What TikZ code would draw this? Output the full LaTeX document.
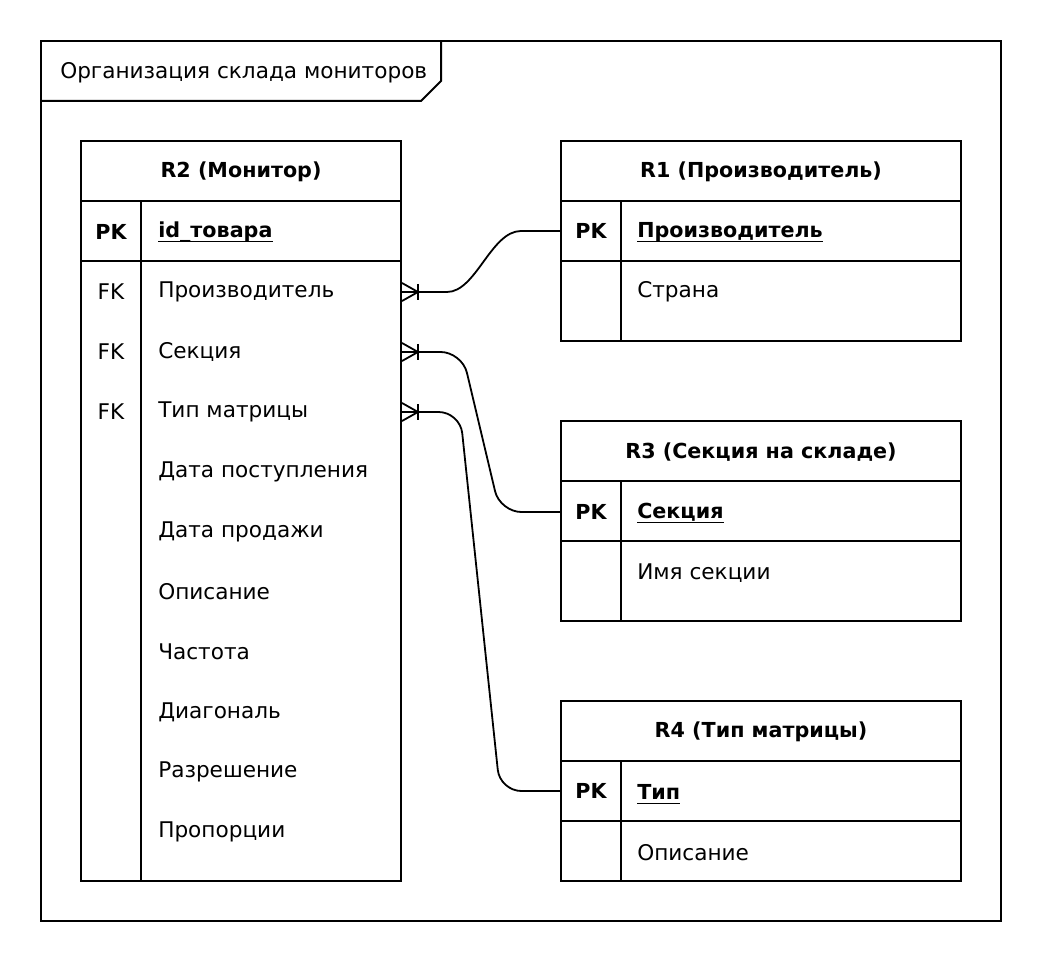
\documentclass[tikz,border=0pt]{standalone}
\usepackage{fontspec}
\setmainfont{DejaVu Sans}
\tikzset{
  frame/.style={line width=1.5pt, line join=miter},
  grid/.style={line width=1.5pt},
  conn/.style={line width=1.35pt},
  ulin/.style={line width=0.9pt},
  txt/.style={font=\fontsize{16.2}{19}\selectfont, inner sep=0pt, anchor=west},
  key/.style={font=\fontsize{16.2}{19}\selectfont, inner sep=0pt},
  bkey/.style={font=\fontsize{15.5}{19}\selectfont\bfseries, inner sep=0pt},
  btxt/.style={font=\fontsize{15.5}{19}\selectfont\bfseries, inner sep=0pt, anchor=west},
  head/.style={font=\fontsize{15.5}{19}\selectfont\bfseries, inner sep=0pt},
  tbl/.style={draw, line width=1.5pt, inner sep=0pt}
}
\newcommand{\crowfoot}[1]{%
  \begin{scope}[shift={(#1)}]
    \draw[conn] (0,-9) -- (16,0) -- (0,9);
    \draw[conn] (16,-8) -- (16,8);
  \end{scope}}
\newcommand{\ulnode}[1]{%
  \draw[ulin] ([yshift=-3pt]#1.base west) -- ([yshift=-3pt]#1.base east);}
\begin{document}
\begin{tikzpicture}[x=0.75pt,y=-0.75pt]
\useasboundingbox (0,0) rectangle (1042,962);
% outer frame
\draw[frame] (41,41) rectangle (1001,921);
\draw[frame] (41,101) -- (421,101) -- (441,81) -- (441,41);
\node[txt] (title) at (60,73) {Организация склада мониторов};

% ---------- R2 ----------
\node[tbl, minimum width=240pt, minimum height=555pt] (r2) at (241,511) {};
\draw[grid] (81,201) -- (401,201);
\draw[grid] (81,261) -- (401,261);
\draw[grid] (141,201) -- (141,881);
\node[head] (r2h) at (241,172) {R2 (Монитор)};
\node[bkey] (r2k0) at (111,232) {PK};
\node[btxt] (r2t0) at (158,232) {id\_товара};
\node[key] (r2k1) at (111,292) {FK};
\node[txt] (r2t1) at (158,292) {Производитель};
\node[key] (r2k2) at (111,352) {FK};
\node[txt] (r2t2) at (158,352) {Секция};
\node[key] (r2k3) at (111,412) {FK};
\node[txt] (r2t3) at (158,412) {Тип матрицы};
\node[txt] (r2t4) at (158,472) {Дата поступления};
\node[txt] (r2t5) at (158,532) {Дата продажи};
\node[txt] (r2t6) at (158,592) {Описание};
\node[txt] (r2t7) at (158,652) {Частота};
\node[txt] (r2t8) at (158,712) {Диагональ};
\node[txt] (r2t9) at (158,772) {Разрешение};
\node[txt] (r2t10) at (158,832) {Пропорции};

% ---------- R1 ----------
\node[tbl, minimum width=300pt, minimum height=150pt] (r1) at (761,241) {};
\draw[grid] (561,201) -- (961,201);
\draw[grid] (561,261) -- (961,261);
\draw[grid] (621,201) -- (621,341);
\node[head] (r1h) at (761,172) {R1 (Производитель)};
\node[bkey] (r1k0) at (591,231) {PK};
\node[btxt] (r1t0) at (637,232) {Производитель};
\node[txt] (r1t1) at (637,292) {Страна};

% ---------- R3 ----------
\node[tbl, minimum width=300pt, minimum height=150pt] (r3) at (761,521) {};
\draw[grid] (561,481) -- (961,481);
\draw[grid] (561,541) -- (961,541);
\draw[grid] (621,481) -- (621,621);
\node[head] (r3h) at (761,452) {R3 (Секция на складе)};
\node[bkey] (r3k0) at (591,512) {PK};
\node[btxt] (r3t0) at (637,512) {Секция};
\node[txt] (r3t1) at (637,573) {Имя секции};

% ---------- R4 ----------
\node[tbl, minimum width=300pt, minimum height=135pt] (r4) at (761,791) {};
\draw[grid] (561,761) -- (961,761);
\draw[grid] (561,821) -- (961,821);
\draw[grid] (621,761) -- (621,881);
\node[head] (r4h) at (761,732) {R4 (Тип матрицы)};
\node[bkey] (r4k0) at (591,791) {PK};
\node[btxt] (r4t0) at (637,792) {Тип};
\node[txt] (r4t1) at (637,853) {Описание};

% underlines of primary keys
\ulnode{r2t0}
\ulnode{r1t0}
\ulnode{r3t0}
\ulnode{r4t0}

% ---------- connectors ----------
\coordinate (c1s) at (r2.east |- r2t1);
\coordinate (c2s) at (r2.east |- r2t2);
\coordinate (c3s) at (r2.east |- r2t3);
\draw[conn] (c1s) -- ++(45,0) .. controls (476,292) and (491,231) .. (521,231) -- (r1.west |- r1k0);
\draw[conn, rounded corners=16pt] (c2s) -- (462,352) -- (500,512) -- (r3.west |- r3k0);
\draw[conn, rounded corners=16pt] (c3s) -- (460,412) -- (500,791) -- (r4.west |- r4k0);
\crowfoot{c1s}
\crowfoot{c2s}
\crowfoot{c3s}
\end{tikzpicture}
\end{document}
